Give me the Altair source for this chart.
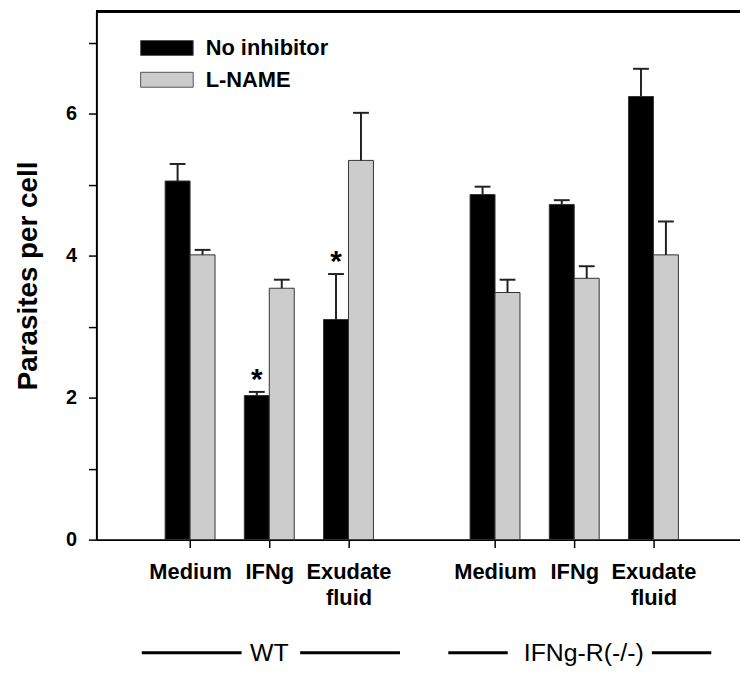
import altair as alt
import pandas as pd

# ---------------- data ----------------
groups = ["WT", "IFNg-R(-/-)"]
conditions = ["Medium", "IFNg", "Exudate fluid"]
series = ["No inhibitor", "L-NAME"]

# order: WT Medium, WT IFNg, WT Exudate, KO Medium, KO IFNg, KO Exudate
no_inhibitor_mean = [5.05, 2.03, 3.10, 4.86, 4.72, 6.24]
no_inhibitor_err = [0.24, 0.05, 0.64, 0.11, 0.06, 0.39]
lname_mean = [4.01, 3.54, 5.34, 3.48, 3.68, 4.01]
lname_err = [0.07, 0.12, 0.67, 0.18, 0.17, 0.47]
significant = [False, True, True, False, False, False]  # asterisk over "No inhibitor"

y_tick_values = [0, 1, 2, 3, 4, 5, 6, 7]
y_title = "Parasites per cell"

# ---------------- layout / style constants ----------------
W, H = 648, 532
PX_PER_UNIT = 71.5
Y_MAX = H / PX_PER_UNIT
GROUP_GAP = 0.85
BAR_W = 0.315
CAP_HALF = 0.1
X_DOMAIN = [-1.12, 6.88]
FONT = "Liberation Sans"
GROUP_TEXT_SHIFT = [0.0, 0.12]
GROUP_LINE_SHIFT = [0.02, 0.07]
LINE_HALF_SPAN = [1.63, 1.66]
LINE_INNER_GAP = [0.37, 0.91]

# ---------------- build tables ----------------
positions = []
rows = []
for gi, g in enumerate(groups):
    for ci, c in enumerate(conditions):
        i = gi * len(conditions) + ci
        pos = ci + gi * (len(conditions) + GROUP_GAP)
        positions.append(pos)
        for si, s in enumerate(series):
            left = pos - BAR_W if si == 0 else pos
            mean = no_inhibitor_mean[i] if si == 0 else lname_mean[i]
            err = no_inhibitor_err[i] if si == 0 else lname_err[i]
            rows.append(dict(group=g, condition=c, series=s,
                             left=left, right=left + BAR_W,
                             center=left + BAR_W / 2,
                             cap_l=left + BAR_W / 2 - CAP_HALF,
                             cap_r=left + BAR_W / 2 + CAP_HALF,
                             mean=mean, top=mean + err,
                             sig=bool(significant[i]) and si == 0))
df = pd.DataFrame(rows)
sig_df = df[df["sig"]]

grp_rows, line_rows = [], []
for gi, g in enumerate(groups):
    mid = positions[gi * len(conditions) + 1]
    grp_rows.append(dict(group=g, mid=mid + GROUP_TEXT_SHIFT[gi]))
    lc = mid + GROUP_LINE_SHIFT[gi]
    line_rows.append(dict(a=lc - LINE_HALF_SPAN[gi], b=lc - LINE_INNER_GAP[gi]))
    line_rows.append(dict(a=lc + LINE_INNER_GAP[gi], b=lc + LINE_HALF_SPAN[gi]))
grp_df = pd.DataFrame(grp_rows)
line_df = pd.DataFrame(line_rows)

# label expression for x ticks
expr = ""
for p, c in zip(positions, conditions * len(groups)):
    parts = c.split(" ")
    lab = "[" + ",".join(f"'{w}'" for w in parts) + "]" if len(parts) > 1 else f"'{c}'"
    expr += f"abs(datum.value - ({p})) < 0.01 ? {lab} : "
expr += "''"

xscale = alt.Scale(domain=X_DOMAIN, nice=False, zero=False)
yscale = alt.Scale(domain=[0, Y_MAX], nice=False, zero=True)

bars = alt.Chart(df).mark_bar(stroke="#333333", strokeWidth=1, orient="vertical").encode(
    x=alt.X("left:Q", scale=xscale, title=None,
            axis=alt.Axis(values=positions, labelExpr=expr, grid=False,
                          domainColor="black", domainWidth=2,
                          tickColor="black", tickWidth=1.5, tickSize=8,
                          labelFont=FONT, labelFontSize=22, labelFontWeight="bold",
                          labelColor="black", labelLineHeight=26,
                          labelPadding=14, labelOverlap=False, labelFlush=False)),
    x2="right:Q",
    y=alt.Y("mean:Q", scale=yscale, title=y_title,
            axis=alt.Axis(values=y_tick_values, grid=False, format="d",
                          labelExpr="datum.value % 2 == 0 ? datum.label : ''",
                          domainColor="black", domainWidth=2,
                          tickColor="black", tickWidth=1.5, tickSize=8,
                          labelFont=FONT, labelFontSize=20, labelFontWeight="bold",
                          labelColor="black", labelPadding=12,
                          titleFont=FONT, titleFontSize=28, titleFontWeight="bold",
                          titleColor="black", titleX=-60, titleY=H / 2,
                          titleAngle=270, titleBaseline="alphabetic", titleAlign="center")),
    y2=alt.datum(0),
    color=alt.Color("series:N",
                    scale=alt.Scale(domain=series, range=["#000000", "#cccccc"]),
                    legend=alt.Legend(title=None, orient="none", legendX=60, legendY=26,
                                      symbolType="M-3.53,-1L3.53,-1L3.53,1L-3.53,1Z",
                                      symbolSize=225, symbolStrokeColor="#555555",
                                      symbolStrokeWidth=1, labelOffset=28, rowPadding=10,
                                      labelFont=FONT, labelFontSize=22,
                                      labelFontWeight="bold", labelColor="black")),
)

err_lines = alt.Chart(df).mark_rule(color="#222222", strokeWidth=2).encode(
    x=alt.X("center:Q", scale=xscale, title=None),
    y=alt.Y("mean:Q", scale=yscale, title=y_title),
    y2="top:Q",
)
caps = alt.Chart(df).mark_rule(color="#222222", strokeWidth=2).encode(
    x=alt.X("cap_l:Q", scale=xscale, title=None),
    x2="cap_r:Q",
    y=alt.Y("top:Q", scale=yscale, title=y_title),
)
stars = alt.Chart(sig_df).mark_text(text="*", font=FONT, fontSize=30, fontWeight="bold",
                                    baseline="alphabetic", dy=-3, color="black").encode(
    x=alt.X("center:Q", scale=xscale, title=None),
    y=alt.Y("top:Q", scale=yscale, title=y_title),
)
frame_top = alt.Chart(df).mark_rule(color="black", strokeWidth=2).encode(
    y=alt.datum(Y_MAX, scale=yscale, title=y_title)
)
grp_text = alt.Chart(grp_df).mark_text(font=FONT, fontSize=25, color="black",
                                       baseline="middle", align="center").encode(
    x=alt.X("mid:Q", scale=xscale, title=None),
    y=alt.value(H + 114),
    text="group:N",
)
grp_lines = alt.Chart(line_df).mark_rule(color="black", strokeWidth=3).encode(
    x=alt.X("a:Q", scale=xscale, title=None),
    x2="b:Q",
    y=alt.value(H + 114),
)

chart = alt.layer(bars, err_lines, caps, stars, frame_top, grp_text, grp_lines).properties(
    width=W, height=H,
    autosize=alt.AutoSizeParams(type="none"),
    padding={"left": 89, "top": 1, "right": 0, "bottom": 130},
).configure_view(strokeWidth=0).configure(font=FONT)

chart.save("out.html", embed_options={"renderer": "svg", "actions": False})
